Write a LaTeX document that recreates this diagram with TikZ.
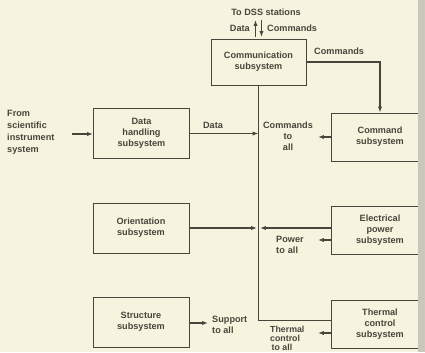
\documentclass[tikz,border=0pt]{standalone}
\usepackage{fontspec}
\setmainfont{Liberation Sans}
\usetikzlibrary{calc,positioning}
\usetikzlibrary{arrows.meta}

\definecolor{paper}{RGB}{246,243,222}
\definecolor{ink}{RGB}{72,70,60}
\definecolor{binding}{RGB}{200,200,190}

\tikzset{
    sub/.style={draw=ink, line width=0.85pt, minimum width=2.88cm, minimum height=1.44cm,
        align=center, text=ink, font=\fontsize{7.8}{9.6}\selectfont\bfseries},
    lbl/.style={text=ink, inner sep=0pt, font=\fontsize{7.8}{9.6}\selectfont\bfseries},
    wire/.style={draw=ink, line width=1.2pt},
    arr/.style={wire, -{Latex[length=5pt,width=3.6pt]}}
}

\begin{document}
\begin{tikzpicture}[x=0.03cm,y=-0.03cm]
            \fill[paper] (0,0) rectangle (425,352);
            \clip (0,0) rectangle (425,352);
            \useasboundingbox (0,0) rectangle (425,352);

            % the boxes
            \node[sub, minimum width=2.85cm, minimum height=1.38cm] (comm) at (258.5,62) {Communication\\subsystem};
            \node[sub, minimum height=1.5cm] (datah) at (141.5,133.5) {Data\\handling\\subsystem};
            \node[sub, minimum height=1.5cm] (orient) at (141,228) {Orientation\\subsystem};
            \node[sub, minimum height=1.5cm] (struct) at (141,322) {Structure\\subsystem};
            \node[sub, minimum width=2.94cm] (cmd) at (380,137) {Command\\subsystem};
            \node[sub, minimum width=2.94cm] (power) at (380,230) {Electrical\\power\\subsystem};
            \node[sub, minimum width=2.94cm] (therm) at (380,324) {Thermal\\control\\subsystem};

            % bus points
            \coordinate (busD) at (comm.south |- datah.east);
            \coordinate (busO) at ($(comm.south |- orient.east)+(-1.5,0)$);
            \coordinate (busP) at ($(comm.south |- orient.east)+(1.5,0)$);
            \coordinate (busT) at (258.5,320.5);

            % DSS link
            \coordinate (upA) at (255.5,37);
            \coordinate (upB) at (255.5,20);
            \coordinate (dnA) at (261.5,20);
            \coordinate (dnB) at (261.5,37);
            \draw[arr] (upA) -- (upB);
            \draw[arr] (dnA) -- (dnB);
            \node[lbl, anchor=east] (ldata) at (250,28.5) {Data};
            \node[lbl, anchor=west] (lcmdup) at (267,28.5) {Commands};
            \node[lbl] (ldss) at (266,12) {To DSS stations};

            % commands down to the command subsystem
            \draw[arr] (comm.east) -| (cmd.north);
            \node[lbl, anchor=south west] (lcmd) at (314,55) {Commands};

            % the bus
            \draw[wire] (comm.south) -- (busT) -- (therm.west |- busT);

            % inputs
            \coordinate (sci) at (72,134);
            \draw[arr] (sci) -- (sci -| datah.west);
            \node[lbl, anchor=west, align=left, font=\fontsize{7.8}{10.2}\selectfont\bfseries] (lsci) at (7,132) {From\\scientific\\instrument\\system};
            \draw[arr] (datah.east) -- (busD);
            \node[lbl] (ldat) at (213,125) {Data};
            \draw[arr] (orient.east) -- (busO);
            \draw[arr] (power.west |- orient.east) -- (busP);

            % outputs to all
            \coordinate (cmdOut) at (318,137);
            \draw[arr] (cmd.west) -- (cmdOut);
            \node[lbl, align=center] (lcmdall) at (288,136) {Commands\\to\\all};

            \coordinate (powOut) at (318,240);
            \draw[arr] (power.west |- powOut) -- (powOut);
            \node[lbl, align=left, anchor=north west] (lpow) at (276,235.5) {Power\\to\,\,all};

            \coordinate (thOut) at (318,333);
            \draw[arr] (therm.west |- thOut) -- (thOut);
            \node[lbl, align=left, anchor=south west, font=\fontsize{7.5}{7.9}\selectfont\bfseries] (lth) at (270,351.3) {Thermal\\control\\\,to all};

            \coordinate (supOut) at (208,323);
            \draw[arr] (struct.east |- supOut) -- (supOut);
            \node[lbl, align=left, anchor=west] (lsup) at (212,325) {Support\\to all};

            % binding edge
            \fill[binding] (418,0) rectangle (425,352);
\end{tikzpicture}
\end{document}
